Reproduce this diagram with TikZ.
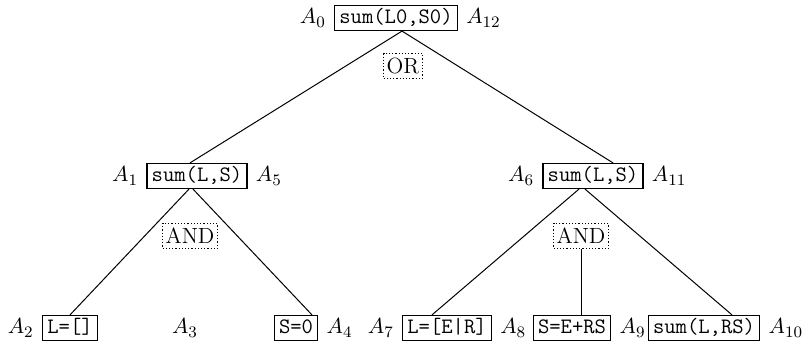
\documentclass[tikz,border=0pt]{standalone}
\usetikzlibrary{calc,positioning}

\begin{document}
\begin{tikzpicture}[
    x=0.5pt, y=-0.5pt,
    node distance=2pt,
    font=\fontsize{11pt}{13pt}\selectfont,
    % Node styles
    goal/.style={draw, line width=0.6pt, font=\fontsize{11pt}{13pt}\selectfont\ttfamily,
                 inner xsep=2.3pt, inner ysep=1pt, text height=8pt, text depth=2.5pt},
    conn/.style={draw, densely dotted, line width=0.6pt, inner xsep=1.5pt, inner ysep=2.5pt,
                 text height=7.6pt, text depth=0pt},
    stamp/.style={inner sep=2pt},
    edge/.style={line width=0.5pt},
]
    \useasboundingbox (0,0) rectangle (808,346);

    % Root goal
    \node[goal] (g0) at (396,18) {sum(L0,S0)};
    \node[conn] (or) at (403,66) {OR};

    % Second level
    \node[goal] (g1) at (197,176) {sum(L,S)};
    \node[goal] (g6) at (593,176) {sum(L,S)};
    \node[conn] (and1) at (190,236) {AND};
    \node[conn] (and2) at (581,236) {AND};

    % Leaves
    \node[goal] (g2) at (70,328) {L=[]};
    \node[goal] (g4) at (296,328) {S=0};
    \node[goal] (g7) at (447,328) {L=[E|R]};
    \node[goal] (g8) at (572,328) {S=E+RS};
    \node[goal] (g9) at (704,328) {sum(L,RS)};

    % Time stamps
    \foreach \g/\i/\side in {g0/0/left, g0/12/right, g1/1/left, g1/5/right,
                             g6/6/left, g6/11/right, g2/2/left, g4/4/right,
                             g7/7/left, g7/8/right, g8/9/right, g9/10/right} {
        \node[stamp, \side=of \g] (t\i) {$A_{\i}$};
    }
    \node[stamp] (t3) at (185,328) {$A_3$};

    % Branches
    \draw[edge] ($(g0.south)+(6,0)$) -- ($(g1.north)+(-7,0)$);
    \draw[edge] ($(g0.south)+(6,0)$) -- ($(g6.north)+(20,0)$);
    \draw[edge] ($(g1.south)+(-8,0)$) -- (g2.north);
    \draw[edge] ($(g1.south)+(-4,0)$) -- ($(g4.north)+(16,0)$);
    \draw[edge] ($(g6.south)+(-14,0)$) -- ($(g7.north)+(-15,0)$);
    \draw[edge] ($(g6.south)+(-8,0)$) -- ($(g9.north)+(28,0)$);
    \draw[edge] (and2.south) -- (and2.south |- g8.north);

\end{tikzpicture}
\end{document}
